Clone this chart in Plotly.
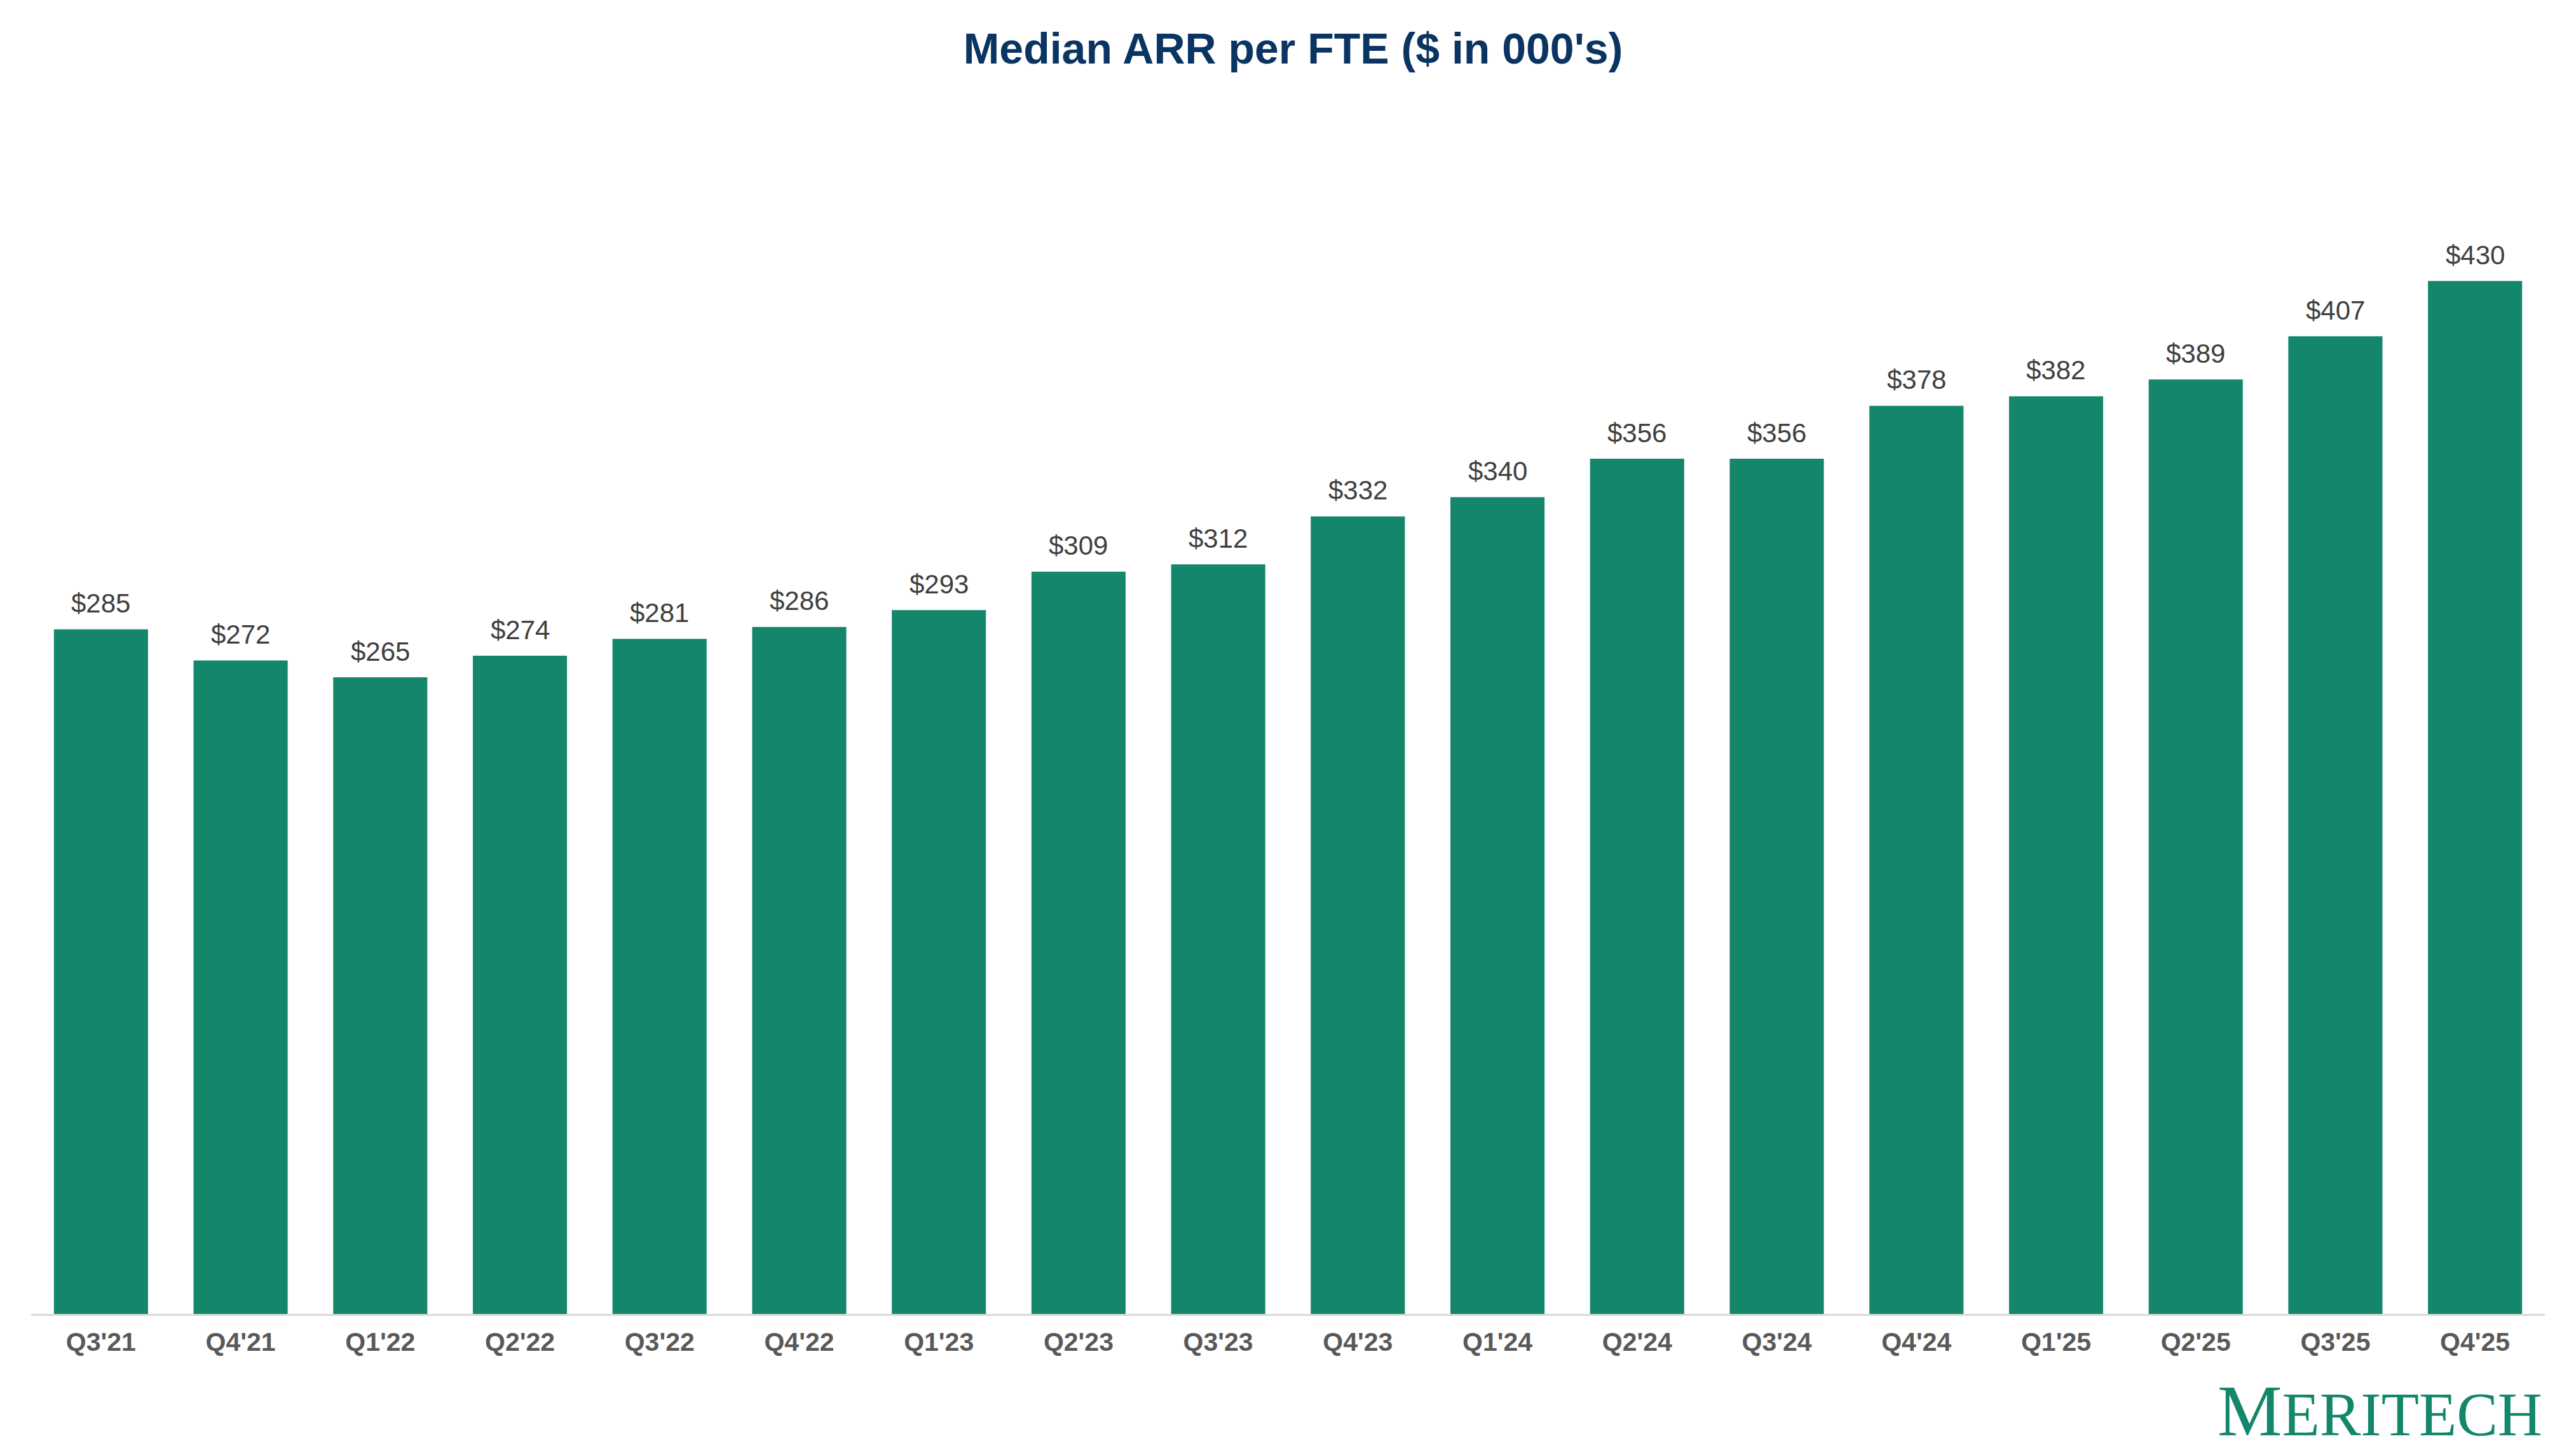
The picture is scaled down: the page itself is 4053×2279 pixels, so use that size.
import plotly.graph_objects as go

quarters = ["Q3'21", "Q4'21", "Q1'22", "Q2'22", "Q3'22", "Q4'22", "Q1'23", "Q2'23", "Q3'23",
            "Q4'23", "Q1'24", "Q2'24", "Q3'24", "Q4'24", "Q1'25", "Q2'25", "Q3'25", "Q4'25"]
arr_per_fte = [285, 272, 265, 274, 281, 286, 293, 309, 312, 332, 340, 356, 356, 378, 382, 389, 407, 430]
value_labels = ["$" + str(v) for v in arr_per_fte]

BAR = "#13866B"
FONT = "Liberation Sans, Arial, sans-serif"

fig = go.Figure()
fig.add_trace(go.Bar(x=quarters, y=arr_per_fte, marker=dict(color=BAR, line=dict(width=0)),
                     hoverinfo="x+y"))

for q, v, lab in zip(quarters, arr_per_fte, value_labels):
    fig.add_annotation(x=q, y=v, text=lab, showarrow=False, yanchor="middle", yshift=41,
                       font=dict(family=FONT, size=42, color="#404040"))

fig.add_annotation(xref="paper", yref="paper", x=0.9995, y=-0.1225, xanchor="right", yanchor="bottom",
                   showarrow=False,
                   text="M<span style='font-size:97px'>ERITECH</span>",
                   font=dict(family="Liberation Serif, DejaVu Serif, serif", size=114, color=BAR))

fig.update_layout(
    width=4053, height=2279,
    paper_bgcolor="white", plot_bgcolor="white",
    margin=dict(l=41, r=57, t=283, b=219),
    bargap=0.326,
    showlegend=False,
    title=dict(text="<b>Median ARR per FTE ($ in 000's)</b>", x=0.5, xanchor="center",
               y=0.9700, yanchor="middle", yref="container",
               font=dict(family=FONT, size=68, color="#0A3462")),
    xaxis=dict(showline=True, linecolor="#D9D9D9", linewidth=3, showgrid=False, zeroline=False,
               ticks="outside", ticklen=6, tickcolor="rgba(0,0,0,0)",
               tickfont=dict(family=FONT, size=41, color="#595959", weight="bold"),
               range=[-0.5, len(quarters) - 0.5]),
    yaxis=dict(visible=False, range=[0, 470], showgrid=False, zeroline=False),
)

fig.write_html("out.html")
